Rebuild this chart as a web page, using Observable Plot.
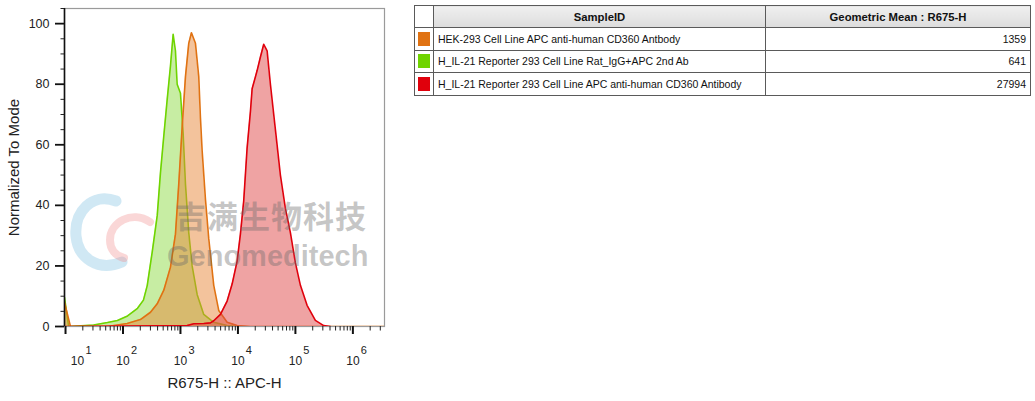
<!DOCTYPE html>
<html><head><meta charset="utf-8">
<script src="https://cdn.jsdelivr.net/npm/d3@7"></script>
<script src="https://cdn.jsdelivr.net/npm/@observablehq/plot@0.6"></script>
<style>
body{margin:0;background:#fff;font-family:"Liberation Sans",Arial,sans-serif;}
#wrap{position:relative;width:1035px;height:401px;overflow:hidden;background:#fff;}
#chart{position:absolute;left:0;top:0;}
#logo{position:absolute;left:0;top:0;pointer-events:none;}
.wm1{position:absolute;left:175px;top:199px;font-family:"Noto Sans CJK SC",sans-serif;font-weight:700;font-size:31px;letter-spacing:1px;color:rgba(105,105,105,0.38);white-space:nowrap;pointer-events:none;line-height:1;}
.wm2{position:absolute;left:167px;top:242px;font-family:"Liberation Sans",Arial,sans-serif;font-weight:700;font-size:29px;letter-spacing:0px;color:rgba(105,105,105,0.38);white-space:nowrap;pointer-events:none;line-height:1;}
#tbl{position:absolute;left:414px;top:5px;border-collapse:collapse;font-size:10.5px;color:#111;table-layout:fixed;}
#tbl td,#tbl th{border:1px solid #5a5a5a;padding:0 4px;white-space:nowrap;}
#tbl td{height:21.5px;}
#tbl th{height:21px;background:linear-gradient(#f0f0f0,#dcdcdc);font-weight:700;text-align:center;font-size:11.3px;}
#tbl th.blank{background:#fff;}
#tbl td.num{text-align:right;padding-right:4px;}
#tbl td.sw{padding:0 3px;}
.swatch{width:12px;height:14px;}
</style></head>
<body>
<div id="wrap">
  <div id="chart"></div>
  <svg id="logo" width="200" height="300">
    <path d="M116,201 C92,192 74,212 76,236 C78,258 98,272 122,262" fill="none" stroke="rgba(150,205,230,0.45)" stroke-width="11" stroke-linecap="round"/>
    <path d="M150,222 C132,210 110,222 110,240 C110,250 116,256 124,258" fill="none" stroke="rgba(240,140,140,0.35)" stroke-width="8" stroke-linecap="round"/>
  </svg>
  <div class="wm1">吉满生物科技</div>
  <div class="wm2">Genomeditech</div>
  <table id="tbl"></table>
</div>
<script>
// ---- data (x = R675-H intensity, y = % of mode) ----
const hekCD360 = [ // orange: HEK-293 Cell Line APC anti-human CD360 Antbody
  [9.6,8],[10,6.6],[12.2,0],[53.7,0],[118,1],[201,2.3],[301,4.7],[394,7.5],[513,12],[670,19.6],
  [818,30.5],[934,47],[1071,66],[1222,82.5],[1394,93.5],[1553,97],[1823,93.5],[2081,82.5],
  [2226,69],[2384,58],[2721,42],[3106,29],[3794,13.6],[4634,5.3],[6486,1.4],[9681,0.3],[16500,0],[3600000,0]
];
const il21Isotype = [ // green: H_IL-21 Reporter 293 Cell Line Rat_IgG+APC 2nd Ab
  [9.6,9.6],[11.3,0],[30.7,0.5],[53.7,1.3],[80,2],[120,3.5],[179,6],[227,8.7],[264,13.5],
  [322,24.5],[394,36.6],[449,50.8],[513,63],[588,75],[670,86],[746,96.5],[818,91],[876,80],
  [1000,77],[1114,63.6],[1222,47],[1394,31],[1596,20],[1950,10.6],[2541,4],[3794,1.4],[6486,0.3],[11040,0]
];
const il21CD360 = [ // red: H_IL-21 Reporter 293 Cell Line APC anti-human CD360 Antibody
  [9.6,0],[1309,0.3],[1702,0.9],[2541,1.0],[3325,1.2],[3794,1.9],[4966,4],[6486,8.4],[7925,14],
  [9681,21.6],[11041,30.5],[12610,41.5],[14450,59],[16500,71],[17660,78.5],[21580,84.5],[24620,89],
  [28120,93.2],[32190,91],[36730,80],[44870,65],[54810,50],[66960,39],[81800,31],[100000,21],
  [122200,13.6],[159600,7],[222600,2],[310600,0.3],[406000,0]
];
const sampleIDs = [
  "HEK-293 Cell Line APC anti-human CD360 Antbody",
  "H_IL-21 Reporter 293 Cell Line Rat_IgG+APC 2nd Ab",
  "H_IL-21 Reporter 293 Cell Line APC anti-human CD360 Antibody"
];
const geoMeans = [1359, 641, 27994];
const lineColors = ["#e07212", "#6fd400", "#e0000c"];
const fillColors = ["#e8883a", "#8fdc48", "#e04848"];
const xDecades = [1e1, 1e2, 1e3, 1e4, 1e5, 1e6];
const xMinorMult = [2,3,4,5,6,7,8,9];
const yMajor = [0, 20, 40, 60, 80, 100];
const yMinor = [5,10,15,25,30,35,45,50,55,65,70,75,85,90,95,105];
const xDomain = [9.6, 3.55e6];
const yDomain = [0, 105];

const xMinor = xDecades.flatMap(d => xMinorMult.map(m => m * d)).filter(v => v < xDomain[1]);
const series = [il21Isotype, hekCD360, il21CD360];
const seriesIdx = [1, 0, 2]; // draw order: green, orange, red

const marks = [
  Plot.frame({stroke: "#9a9a9a", strokeWidth: 1.2}),
];
seriesIdx.forEach((ci, k) => {
  const s = series[k];
  marks.push(Plot.areaY(s, {x: d => d[0], y: d => d[1], fill: fillColors[ci], fillOpacity: 0.5, clip: true}));
  marks.push(Plot.lineY(s, {x: d => d[0], y: d => d[1], stroke: lineColors[ci], strokeWidth: 1.6, clip: true}));
});
marks.push(
  Plot.ruleX([xDomain[0]], {stroke: "#111", strokeWidth: 1.6}),
  Plot.axisY({ticks: yMajor, tickSize: 9, tickPadding: 6, strokeWidth: 1.8, stroke: "#111", fill: "#222", fontSize: 12.5,
    label: null}),
  Plot.axisY({ticks: yMinor, tickSize: 3.5, tickFormat: () => "", stroke: "#222", label: null}),
  Plot.axisX({ticks: xDecades, tickSize: 8, strokeWidth: 2, stroke: "#111", tickFormat: () => "", label: null}),
  Plot.axisX({ticks: xMinor, tickSize: 4.5, stroke: "#222", tickFormat: () => "", label: null}),
  Plot.text(xDecades.slice(1), {x: d => d, text: () => "10", frameAnchor: "bottom", dy: 38, fontSize: 12, fill: "#222"}),
  Plot.text(xDecades.slice(1), {x: d => d, text: d => String(Math.round(Math.log10(d))), frameAnchor: "bottom", dy: 27, dx: 11, fontSize: 11, fill: "#222"}),
  Plot.text(xDecades.slice(0, 1), {x: d => d, text: () => "10", frameAnchor: "bottom", dy: 38, dx: 12, fontSize: 12, fill: "#222"}),
  Plot.text(xDecades.slice(0, 1), {x: d => d, text: d => String(Math.round(Math.log10(d))), frameAnchor: "bottom", dy: 27, dx: 23, fontSize: 11, fill: "#222"}),
  Plot.text(["R675-H :: APC-H"], {frameAnchor: "bottom", dy: 61, fontSize: 15, fill: "#222"}),
  Plot.text(["Normalized To Mode"], {frameAnchor: "left", textAnchor: "middle", dx: -50, rotate: -90, fontSize: 15, fill: "#222"})
);

const chart = Plot.plot({
  width: 405, height: 401,
  marginLeft: 64, marginTop: 8, marginRight: 21, marginBottom: 75,
  style: {fontFamily: "Liberation Sans, Arial, sans-serif", fontSize: "12px", color: "#222", background: "transparent", overflow: "visible"},
  x: {type: "log", domain: xDomain},
  y: {domain: yDomain},
  marks
});
document.getElementById("chart").appendChild(chart);

// table legend
const tbl = document.getElementById("tbl");
const colg = document.createElement("colgroup");
[19, 332, 265].forEach(w => { const c = document.createElement("col"); c.style.width = w + "px"; colg.appendChild(c); });
tbl.appendChild(colg);
const hr = tbl.insertRow();
hr.innerHTML = '<th class="blank"></th><th>SampleID</th><th>Geometric Mean : R675-H</th>';
sampleIDs.forEach((name, i) => {
  const r = tbl.insertRow();
  const c0 = r.insertCell(); c0.className = "sw";
  const sw = document.createElement("div"); sw.className = "swatch"; sw.style.background = lineColors[i]; c0.appendChild(sw);
  const c1 = r.insertCell(); c1.textContent = name;
  const c2 = r.insertCell(); c2.className = "num"; c2.textContent = geoMeans[i];
});
</script>
</body></html>
